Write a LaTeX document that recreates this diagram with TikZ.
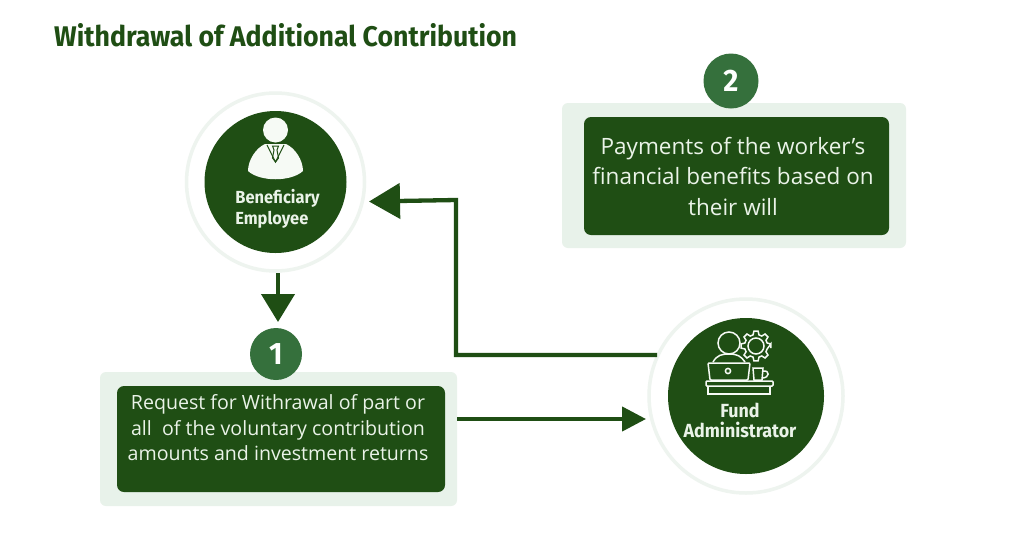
\documentclass[tikz,border=0pt]{standalone}
\usepackage{fontspec}
\setmainfont{Open Sans}
\newfontfamily\titlefont[FakeStretch=0.94]{Fira Sans}
\usetikzlibrary{arrows.meta}
\definecolor{dk}{HTML}{1F4E14}
\definecolor{lt}{HTML}{E8F2EA}
\definecolor{rim}{HTML}{EEF4EF}
\definecolor{badge}{HTML}{35703C}
\definecolor{ink}{HTML}{EAF3E8}
\definecolor{pale}{HTML}{F6FAF5}
\tikzset{
  x=1pt,y=-1pt,
  rim/.style={circle,draw=rim,line width=3.5pt,fill=white,minimum size=#1,inner sep=0pt},
  disc/.style={circle,fill=dk,minimum size=#1,inner sep=0pt},
  panel/.style={rectangle,rounded corners=6pt,fill=lt,inner sep=0pt},
  card/.style={rectangle,rounded corners=7pt,fill=dk,inner sep=0pt},
  badgedot/.style={circle,fill=badge,minimum size=#1,inner sep=0pt,text=white,font=\titlefont\bfseries\fontsize{31}{31}\selectfont},
  cardtext/.style={text=ink,align=center,inner sep=0pt},
  disctext/.style={text=ink,align=left,inner sep=0pt,font=\titlefont\bfseries\fontsize{17.5}{21}\selectfont},
  linkbase/.style={draw=dk,line width=4.3pt},
  linkdown/.style={linkbase,-{Triangle[length=28pt,width=33pt]}},
  linkback/.style={linkbase,-{Triangle[length=31pt,width=35pt]}},
  linkright/.style={linkbase,-{Triangle[length=24pt,width=24pt]}},
  icon/.style={draw=pale,line width=1.5pt,fill=none},
}
\begin{document}
\begin{tikzpicture}
\useasboundingbox (0,0) rectangle (1024,536);
\fill[white] (0,0) rectangle (1024,536);
\node[anchor=west,text=dk,inner sep=0pt,font=\titlefont\bfseries\fontsize{28.4}{28}\selectfont] (title) at (54,35) {Withdrawal of Additional Contribution};

% panels
\node[panel,minimum width=357pt,minimum height=134pt] (p1) at (278.5,439) {};
\node[card,minimum width=328pt,minimum height=106pt] (c1) at (281,439) {};
\node[panel,minimum width=344pt,minimum height=145pt] (p2) at (734,175.5) {};
\node[card,minimum width=305pt,minimum height=118pt] (c2) at (736.5,176) {};
\node[badgedot=52pt] (b1) at (276,354) {1};
\node[badgedot=55pt] (b2) at (731,81) {2};
\node[cardtext,font=\fontsize{19.6}{25.5}\selectfont] (t1) at (278,428) {Request for Withrawal of part or\\all\ \ of the voluntary contribution\\amounts and investment returns};
\node[cardtext,font=\fontsize{22.5}{30.5}\selectfont] (t2) at (733,176) {Payments of the worker’s\\financial benefits based on\\their will};

% circles
\node[rim=178pt] (r1) at (275.5,182) {};
\node[disc=142pt] (d1) at (275.5,182) {};
\node[rim=194pt] (r2) at (746,396) {};
\node[disc=156pt] (d2) at (746,396) {};
\node[disctext] (l1) at (277.5,209) {Beneficiary\\Employee};
\node[disctext,align=center,font=\titlefont\bfseries\fontsize{19}{20}\selectfont] (l2) at (740,420) {Fund\\Administrator};

% person icon
\fill[pale] (275.5,130) circle (12.5pt);
\fill[pale] (265,144) .. controls (256,148) and (248,160) .. (248,171) .. controls (260,182) and (291,182) .. (303,171) .. controls (303,160) and (295,148) .. (286,144) -- cycle;
\draw[dk,line width=1pt] (267,145) -- (275.5,162) -- (284,145);
\draw[dk,line width=1pt] (272.5,146) -- (278.5,146) -- (277,150) -- (278.5,158) -- (275.5,162) -- (272.5,158) -- (274,150) -- cycle;

% administrator icon
\draw[icon] (729,343) circle (11pt);
\draw[icon] (713,362) .. controls (717,355) and (722,354) .. (729,354) .. controls (737,354) and (741,356) .. (745,362);
\draw[icon,rounded corners=1pt] (708,363) -- (750,363) -- (748,380) -- (710,380) -- cycle;
\draw[icon] (728,371) circle (2.6pt);
\begin{scope}[shift={(756,346)}]
  \draw[icon] (8:15pt)
    \foreach \a in {0,45,...,315} {
      -- (\a-8:15pt) -- (\a+8:15pt) -- (\a+15:11.5pt) -- (\a+30:11.5pt)
    } -- cycle;
  \draw[icon] (0,0) circle (8pt);
\end{scope}
\draw[icon] (753,368) -- (763,368) -- (762,380) -- (754,380) -- cycle;
\draw[icon] (763,371) .. controls (770,370) and (770,378) .. (762,378);
\draw[icon,rounded corners=1pt] (706,381) rectangle (773,386);
\draw[icon] (708,386) -- (708,394) -- (770,394) -- (770,386);

% connectors
\coordinate (a1s) at (278,273);
\coordinate (a1e) at (278,322);
\coordinate (a2s) at (657,355);
\coordinate (a2m) at (456,355);
\coordinate (a2n) at (456,200);
\coordinate (a2e) at (369,201.5);
\coordinate (a3s) at (457,419);
\coordinate (a3e) at (646,419);
\draw[linkdown] (a1s) -- (a1e);
\draw[linkback] (a2s) -- (a2m) -- (a2n) -- (a2e);
\draw[linkright] (a3s) -- (a3e);
\end{tikzpicture}
\end{document}
